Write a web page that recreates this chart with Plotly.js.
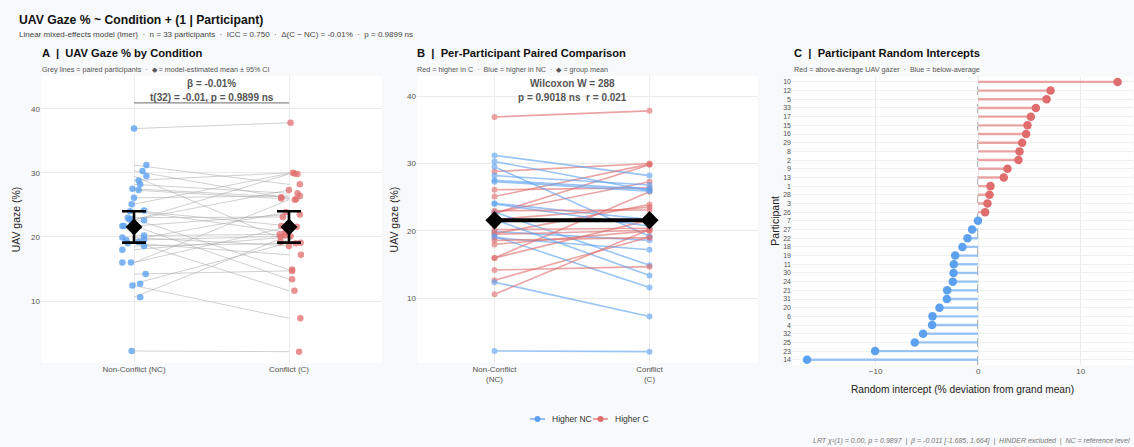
<!DOCTYPE html>
<html>
<head>
<meta charset="utf-8">
<script src="https://cdn.plot.ly/plotly-3.0.1.min.js"></script>
<style>
html,body{margin:0;padding:0;background:#F8F9FA;}
#chart{width:1134px;height:447px;}
</style>
</head>
<body>
<div id="chart"></div>
<script>
// ---------------- DATA ----------------
const participants = [1,2,3,4,5,6,7,8,9,10,11,12,13,14,15,16,17,18,19,20,21,22,23,24,25,26,27,28,29,30,31,32,33];
const ncGaze = [24.1,22.6,21.7,19.9,28.8,12.7,19.6,26.1,22.7,36.9,22.8,31.2,29.5,2.2,25.1,27.5,28.2,19.5,18.0,19.2,19.0,20.2,12.4,16.0,14.2,24.0,16.0,23.0,27.3,18.6,21.7,10.6,30.3];
const cGaze  = [21.7,29.8,23.5,18.6,30.0,19.1,23.9,26.4,27.3,37.8,14.9,28.2,19.2,2.1,29.9,26.2,26.8,20.1,20.0,11.6,17.2,20.4,7.3,21.6,14.7,20.7,25.8,23.1,25.9,19.0,13.4,20.2,26.0];
const condTicksA = ['Non-Conflict (NC)','Conflict (C)'];
const condTicksB = ['Non-Conflict<br>(NC)','Conflict<br>(C)'];
const legendNames = ['Higher NC','Higher C'];
// model-estimated means and 95% CI (panel A)
const emmMean = [21.55,21.55];
const emmLow  = [19.1,19.1];
const emmHigh = [24.0,24.0];
// random intercepts (panel C)
const ranefIds  = [10,12,5,33,17,15,16,29,8,2,9,13,1,28,3,26,7,27,22,18,19,11,30,24,21,31,20,6,4,32,25,23,14];
const ranefVals = [13.6,7.06,6.67,5.63,5.14,4.81,4.68,4.29,4.03,3.93,2.86,2.50,1.20,1.11,0.91,0.68,-0.02,-0.59,-1.04,-1.53,-2.24,-2.37,-2.40,-2.47,-3.02,-3.05,-3.77,-4.45,-4.49,-5.37,-6.18,-10.05,-16.68];
// horizontal jitter of the panel A dots (category units)
const jitterNC = [0.065,0.065,-0.075,-0.075,0.03,0.04,0.065,0,-0.03,0,-0.02,0.08,0.08,-0.015,-0.015,-0.01,0.04,-0.05,-0.075,0.03,-0.04,0.065,-0.01,-0.075,0.075,-0.025,-0.02,-0.04,0.03,0.065,-0.065,0.04,0.055];
const jitterC  = [-0.05,0.055,0.07,0,0.025,0.075,-0.02,0.07,0,0.01,0.02,0.07,-0.055,0.065,0.035,-0.05,0.055,0.01,-0.055,0.035,0.077,-0.06,0.073,0.05,0.02,-0.025,0.037,-0.04,0.047,0.043,0.02,-0.025,-0.05];

// ---------------- STYLE ----------------
const BLUE = '#5CA1F0', RED = '#E06D6D';
const W = 1134, H = 447;
const px = x => x / W;
const py = y => 1 - y / H;
const FONT = 'Liberation Sans, Arial, sans-serif';

const traces = [];

// ---- Panel A ----
const gx = [], gy = [];
participants.forEach((p,i)=>{ gx.push(1,2,null); gy.push(ncGaze[i], cGaze[i], null); });
traces.push({x:gx, y:gy, xaxis:'x', yaxis:'y', mode:'lines', type:'scatter',
  line:{color:'rgba(170,170,170,0.55)', width:1}, showlegend:false, hoverinfo:'skip'});
traces.push({x:participants.map((p,i)=>1+jitterNC[i]), y:ncGaze, xaxis:'x', yaxis:'y', mode:'markers', type:'scatter',
  marker:{color:BLUE, size:6.5, opacity:0.8}, showlegend:false});
traces.push({x:participants.map((p,i)=>2+jitterC[i]), y:cGaze, xaxis:'x', yaxis:'y', mode:'markers', type:'scatter',
  marker:{color:RED, size:6.5, opacity:0.75}, showlegend:false});
traces.push({x:[1,2], y:emmMean, xaxis:'x', yaxis:'y', mode:'markers', type:'scatter',
  marker:{color:'#000', size:13, symbol:'diamond'},
  error_y:{type:'data', symmetric:false, array:emmHigh.map((h,i)=>h-emmMean[i]), arrayminus:emmMean.map((m,i)=>m-emmLow[i]), color:'#000', thickness:2.6, width:12},
  showlegend:false});

// ---- Panel B ----
participants.forEach((p,i)=>{
  const higherC = cGaze[i] > ncGaze[i];
  const col = higherC ? RED : BLUE;
  traces.push({x:[1,2], y:[ncGaze[i], cGaze[i]], xaxis:'x2', yaxis:'y2', type:'scatter', mode:'lines+markers',
    line:{color:col, width:1.6}, marker:{color:col, size:6}, opacity:0.62,
    name: higherC ? legendNames[1] : legendNames[0], showlegend:false});
});
const mean = a => a.reduce((s,v)=>s+v,0)/a.length;
traces.push({x:[1,2], y:[mean(ncGaze), mean(cGaze)], xaxis:'x2', yaxis:'y2', type:'scatter', mode:'lines+markers',
  line:{color:'#000', width:4}, marker:{color:'#000', size:14, symbol:'diamond'}, showlegend:false});

// ---- Panel C ----
const segRedX=[], segRedY=[], segBlueX=[], segBlueY=[];
ranefIds.forEach((id,i)=>{
  const v = ranefVals[i], s = String(id);
  if (v > 0) { segRedX.push(0, v, null); segRedY.push(s, s, null); }
  else { segBlueX.push(0, v, null); segBlueY.push(s, s, null); }
});
traces.push({x:segRedX, y:segRedY, xaxis:'x3', yaxis:'y3', type:'scatter', mode:'lines',
  line:{color:'rgba(224,109,109,0.6)', width:2.4}, showlegend:false, hoverinfo:'skip'});
traces.push({x:segBlueX, y:segBlueY, xaxis:'x3', yaxis:'y3', type:'scatter', mode:'lines',
  line:{color:'rgba(92,161,240,0.6)', width:2.4}, showlegend:false, hoverinfo:'skip'});
traces.push({x:ranefVals, y:ranefIds.map(String), xaxis:'x3', yaxis:'y3', type:'scatter', mode:'markers',
  marker:{color:ranefVals.map(v=>v>0?RED:BLUE), size:8.5}, showlegend:false});

// ---------------- LEGEND (drawn manually, compact keys) ----------------
const legShapes = [], legAnn = [];
const legY = 419;
const legItems = [{x:530, col:BLUE, name:legendNames[0]}, {x:593, col:RED, name:legendNames[1]}];
legItems.forEach(it=>{
  legShapes.push({type:'line', xref:'paper', yref:'paper', x0:px(it.x), x1:px(it.x+15), y0:py(legY), y1:py(legY), line:{color:it.col, width:1.6}, opacity:0.8});
  legShapes.push({type:'circle', xref:'paper', yref:'paper', x0:px(it.x+4.5), x1:px(it.x+10.5), y0:py(legY+3), y1:py(legY-3), fillcolor:it.col, line:{width:0}});
  legAnn.push({text:it.name, xref:'paper', yref:'paper', x:px(it.x+20), y:py(legY), xanchor:'left', yanchor:'middle', showarrow:false, font:{family:FONT, size:8.5, color:'#333'}});
});

// ---------------- LAYOUT ----------------
const gridCol = '#EBEBEB';
const tickFont = {family:FONT, size:8, color:'#555'};
const yDom = [py(363), py(76)];
const layout = {
  width:W, height:H, margin:{l:0,r:0,t:0,b:0},
  paper_bgcolor:'#F8F9FA', plot_bgcolor:'#FFFFFF',
  font:{family:FONT, color:'#333'},
  showlegend:false,
  xaxis:{domain:[px(41), px(382)], range:[0.4,2.6], tickvals:[1,2], ticktext:condTicksA, showgrid:true, gridcolor:gridCol,
    zeroline:false, showline:false, ticks:'', tickfont:tickFont, fixedrange:true},
  yaxis:{domain:yDom, range:[0.33,45.1], tickvals:[10,20,30,40], showgrid:true, gridcolor:gridCol, zeroline:false, ticks:'',
    tickfont:tickFont, title:{text:'UAV gaze (%)', font:{family:FONT, size:10.5, color:'#222'}, standoff:8}},
  xaxis2:{domain:[px(417), px(758)], range:[0.5,2.7], tickvals:[1,2], ticktext:condTicksB, showgrid:true, gridcolor:gridCol,
    zeroline:false, ticks:'', tickfont:tickFont, anchor:'y2'},
  yaxis2:{domain:yDom, range:[0.415,42.97], tickvals:[10,20,30,40], showgrid:true, gridcolor:gridCol, zeroline:false, ticks:'',
    tickfont:tickFont, anchor:'x2', title:{text:'UAV gaze (%)', font:{family:FONT, size:10.5, color:'#222'}, standoff:6}},
  xaxis3:{domain:[px(792), px(1133)], range:[-18.15,15.1], tickvals:[-10,0,10], showgrid:true, gridcolor:gridCol, zeroline:false,
    ticks:'', tickfont:tickFont, anchor:'y3',
    title:{text:'Random intercept (% deviation from grand mean)', font:{family:FONT, size:10.2, color:'#222'}, standoff:10}},
  yaxis3:{domain:[py(365), py(76.7)], type:'category', categoryorder:'array', categoryarray:ranefIds.slice().reverse().map(String),
    range:[-0.6, ranefIds.length-0.4], showgrid:true, gridcolor:'#F0F0F0', zeroline:false, ticks:'',
    tickfont:{family:FONT, size:7, color:'#555'}, anchor:'x3',
    title:{text:'Participant', font:{family:FONT, size:10.5, color:'#222'}, standoff:1}},
  shapes:[
    {type:'line', xref:'x', yref:'y', x0:1, x1:2, y0:40.9, y1:40.9, line:{color:'#888', width:1.3}},
    {type:'line', xref:'x3', yref:'y3 domain', x0:0, x1:0, y0:0, y1:1, line:{color:'#666', width:1.2, dash:'dash'}, layer:'below'}
  ].concat(legShapes),
  annotations:[
    {text:'<b>UAV Gaze % ~ Condition + (1 | Participant)</b>', xref:'paper', yref:'paper', x:px(17), y:py(20), xanchor:'left', yanchor:'middle', showarrow:false, font:{family:FONT, size:12.2, color:'#111'}},
    {text:'Linear mixed-effects model (lmer)  ·  n = 33 participants  ·  ICC = 0.750  ·  Δ(C − NC) = -0.01%  ·  p = 0.9899 ns', xref:'paper', yref:'paper', x:px(17), y:py(35), xanchor:'left', yanchor:'middle', showarrow:false, font:{family:FONT, size:8, color:'#444'}},
    {text:'<b>A  |  UAV Gaze % by Condition</b>', xref:'paper', yref:'paper', x:px(40), y:py(53), xanchor:'left', yanchor:'middle', showarrow:false, font:{family:FONT, size:11.2, color:'#111'}},
    {text:'Grey lines = paired participants  ·  ◆ = model-estimated mean ± 95% CI', xref:'paper', yref:'paper', x:px(40), y:py(69), xanchor:'left', yanchor:'middle', showarrow:false, font:{family:FONT, size:7.2, color:'#555'}},
    {text:'<b>B  |  Per-Participant Paired Comparison</b>', xref:'paper', yref:'paper', x:px(415), y:py(53), xanchor:'left', yanchor:'middle', showarrow:false, font:{family:FONT, size:11.2, color:'#111'}},
    {text:'Red = higher in C  ·  Blue = higher in NC  ·  ◆ = group mean', xref:'paper', yref:'paper', x:px(415), y:py(69), xanchor:'left', yanchor:'middle', showarrow:false, font:{family:FONT, size:7.2, color:'#555'}},
    {text:'<b>C  |  Participant Random Intercepts</b>', xref:'paper', yref:'paper', x:px(792), y:py(53), xanchor:'left', yanchor:'middle', showarrow:false, font:{family:FONT, size:11.2, color:'#111'}},
    {text:'Red = above-average UAV gazer  ·  Blue = below-average', xref:'paper', yref:'paper', x:px(792), y:py(69), xanchor:'left', yanchor:'middle', showarrow:false, font:{family:FONT, size:7.2, color:'#555'}},
    {text:'<b>β = -0.01%</b>', xref:'x', yref:'paper', x:1.5, y:py(84), xanchor:'center', yanchor:'middle', showarrow:false, font:{family:FONT, size:10, color:'#555'}},
    {text:'<b>t(32) = -0.01, p = 0.9899 ns</b>', xref:'x', yref:'paper', x:1.5, y:py(97.5), xanchor:'center', yanchor:'middle', showarrow:false, font:{family:FONT, size:10, color:'#555'}},
    {text:'<b>Wilcoxon W = 288</b>', xref:'x2', yref:'paper', x:1.5, y:py(84), xanchor:'center', yanchor:'middle', showarrow:false, font:{family:FONT, size:10, color:'#555'}},
    {text:'<b>p = 0.9018 ns  r = 0.021</b>', xref:'x2', yref:'paper', x:1.5, y:py(98), xanchor:'center', yanchor:'middle', showarrow:false, font:{family:FONT, size:10, color:'#555'}},
    {text:'<i>LRT χ²(1) = 0.00, p = 0.9897  |  β = -0.011 [-1.685, 1.664]  |  HINDER excluded  |  NC = reference level</i>', xref:'paper', yref:'paper', x:px(1132), y:py(441), xanchor:'right', yanchor:'middle', showarrow:false, font:{family:FONT, size:7, color:'#777'}}
  ].concat(legAnn)
};

Plotly.newPlot('chart', traces, layout, {displayModeBar:false, staticPlot:true});
</script>
</body>
</html>
